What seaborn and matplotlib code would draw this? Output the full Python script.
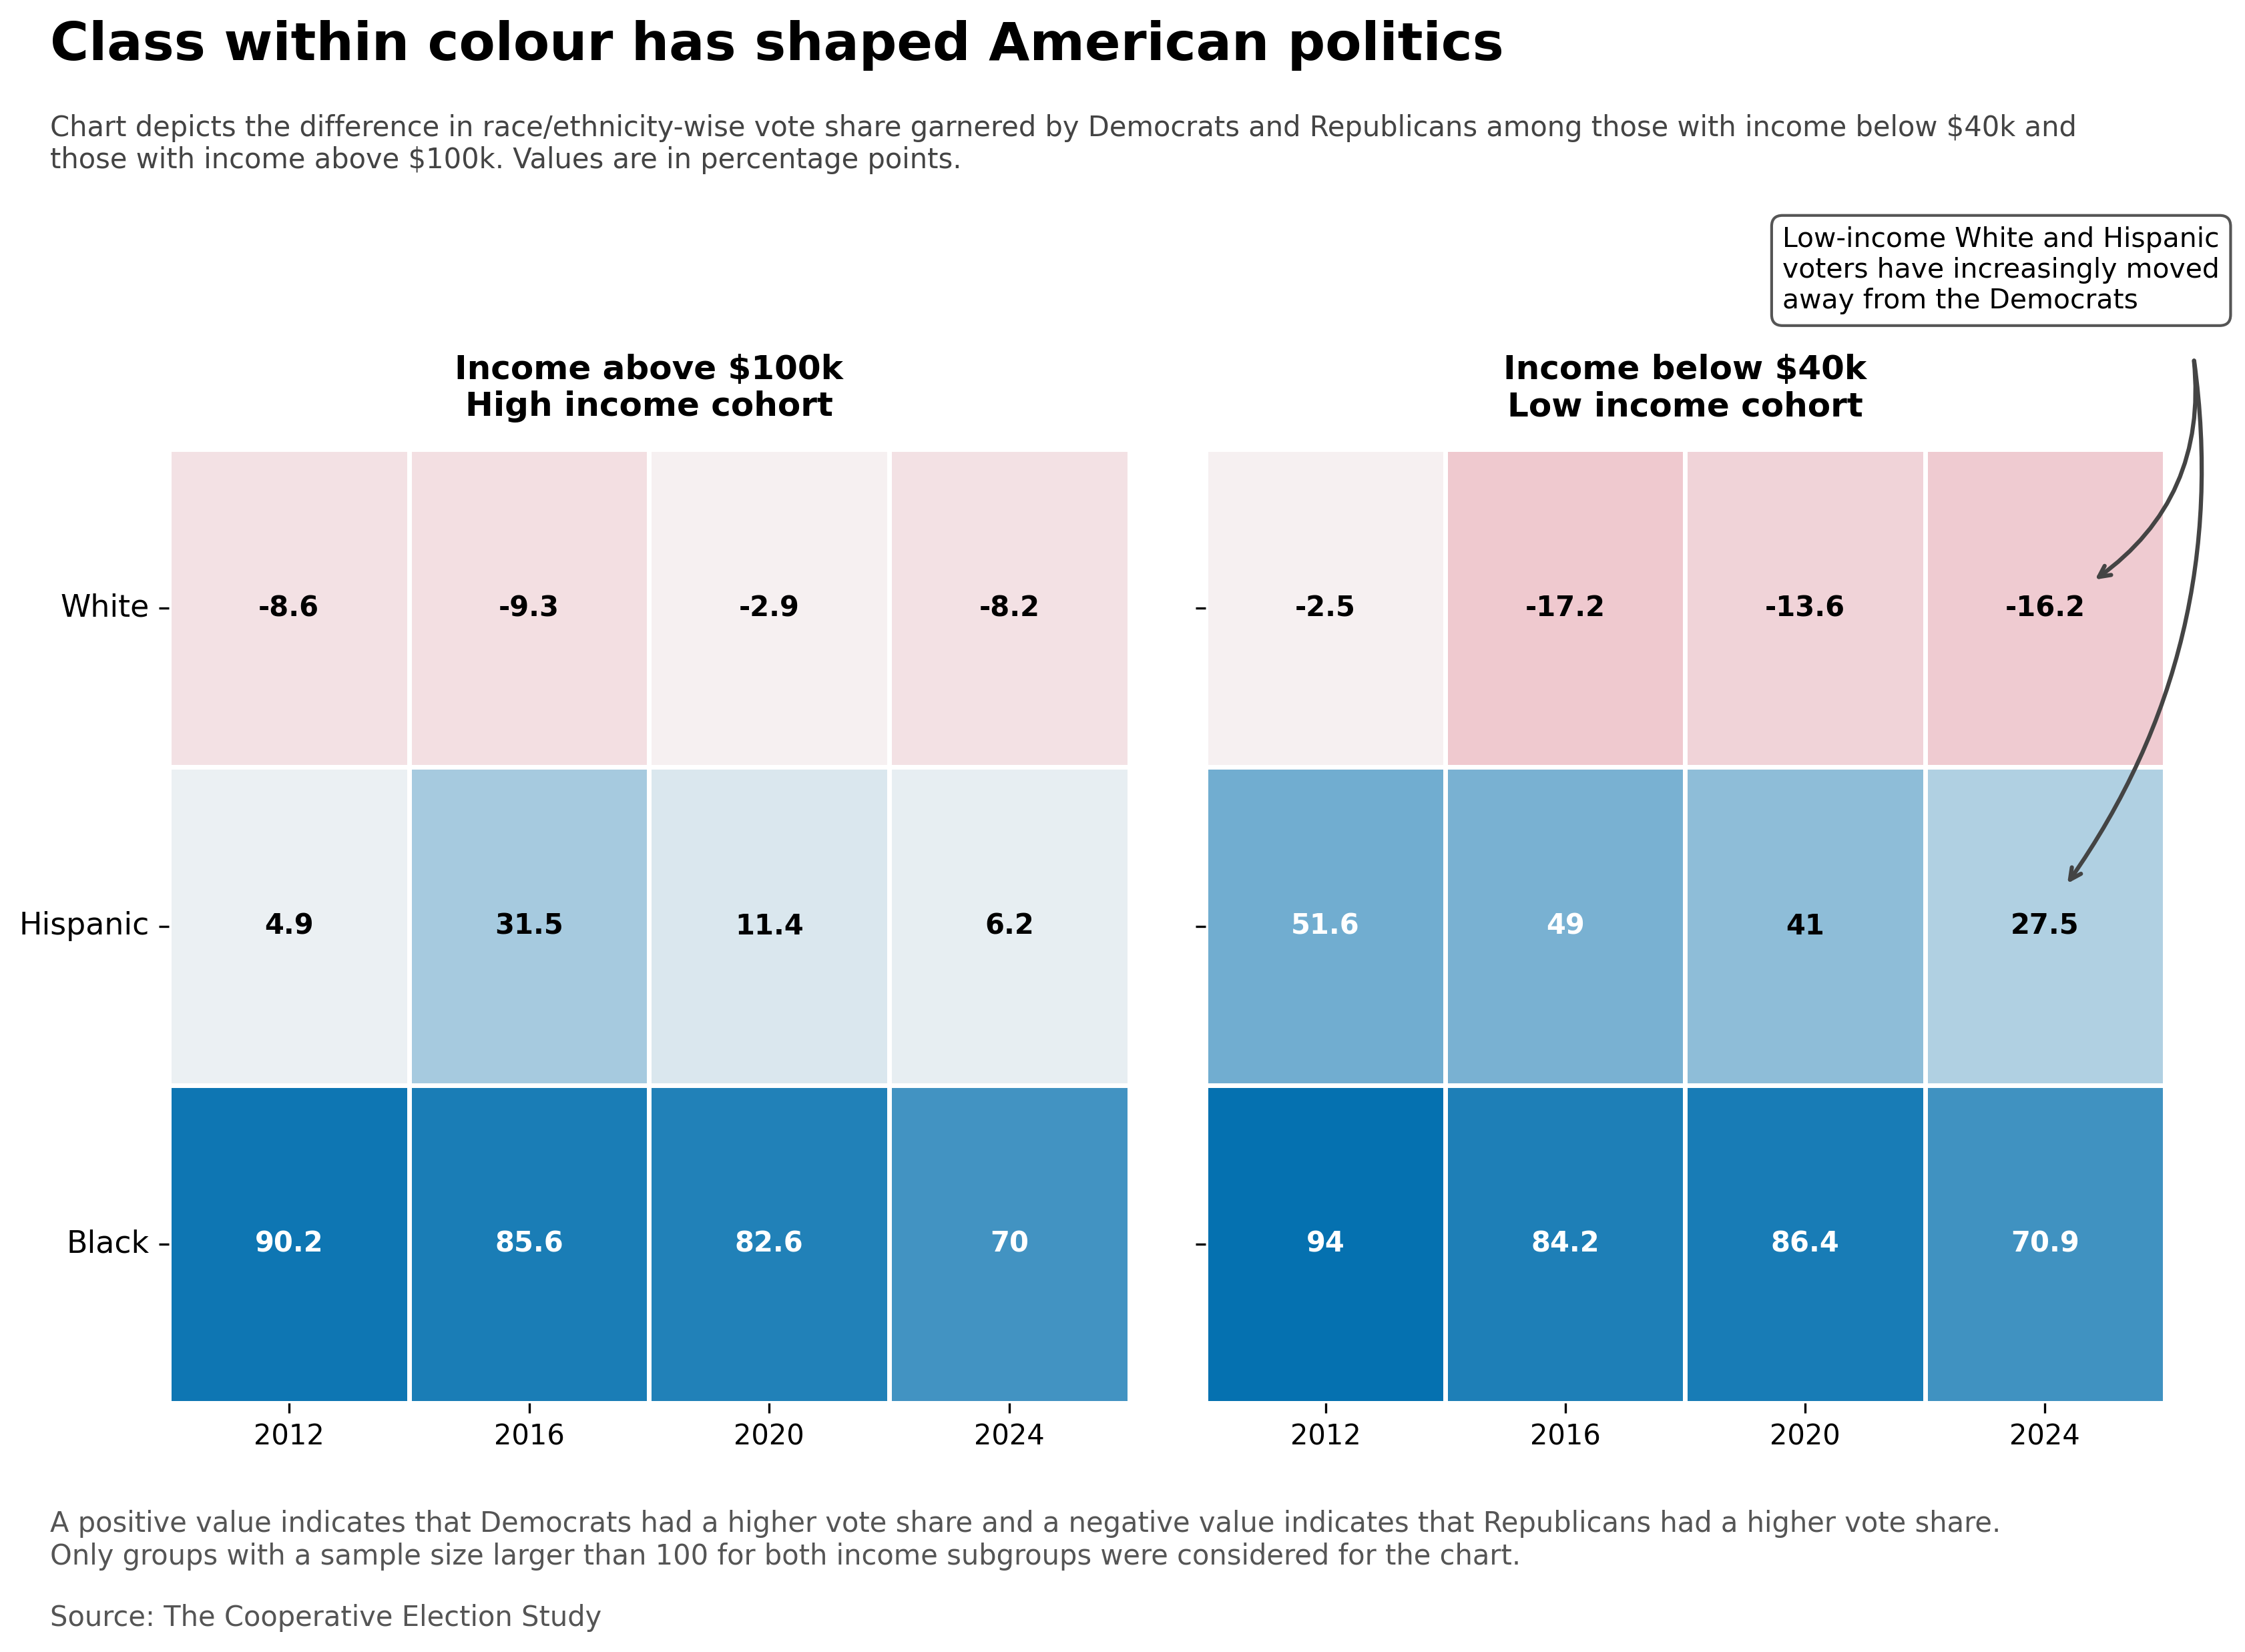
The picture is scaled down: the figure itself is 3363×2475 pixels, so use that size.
import matplotlib
matplotlib.use("Agg")
import matplotlib.pyplot as plt
import seaborn as sns
import pandas as pd
import numpy as np

# Dem minus Rep vote share (percentage points), by race and income cohort
years = [2012, 2016, 2020, 2024]
groups = ["White", "Hispanic", "Black"]

high_white = [-8.6, -9.3, -2.9, -8.2]
high_hispanic = [4.9, 31.5, 11.4, 6.2]
high_black = [90.2, 85.6, 82.6, 70]

low_white = [-2.5, -17.2, -13.6, -16.2]
low_hispanic = [51.6, 49, 41, 27.5]
low_black = [94, 84.2, 86.4, 70.9]

high = pd.DataFrame([high_white, high_hispanic, high_black], index=groups, columns=years)
low = pd.DataFrame([low_white, low_hispanic, low_black], index=groups, columns=years)

vmax = max(high.abs().max().max(), low.abs().max().max())
cmap = sns.blend_palette(["#ca0020", "#f7f7f7", "#0571b0"], as_cmap=True)

fig = plt.figure(figsize=(11.21, 8.25), dpi=300)
ax1 = fig.add_axes([0.0752, 0.1507, 0.4279, 0.5773])
ax2 = fig.add_axes([0.537, 0.1507, 0.4273, 0.5773])

for ax, df, title in [(ax1, high, "Income above \\$100k\nHigh income cohort"),
                      (ax2, low, "Income below \\$40k\nLow income cohort")]:
    sns.heatmap(df, ax=ax, cmap=cmap, center=0, vmin=-vmax, vmax=vmax,
                annot=True, fmt="g", annot_kws={"weight": "bold", "size": 10},
                linewidths=1.6, linecolor="white", cbar=False)
    # pure black labels on the light cells
    for t in ax.texts:
        if t.get_color() != "w":
            t.set_color("black")
    ax.set_title(title, fontsize=12, fontweight="bold", pad=12)
    ax.set_xlabel("")
    ax.set_ylabel("")
    ax.tick_params(axis="x", labelsize=10, rotation=0)
    ax.tick_params(axis="y", labelsize=11, rotation=0)

ax2.set_yticklabels([])

fig.text(0.0223, 0.988, "Class within colour has shaped American politics",
         fontsize=19, fontweight="bold", va="top", ha="left")
fig.text(0.0223, 0.931,
         "Chart depicts the difference in race/ethnicity-wise vote share garnered by Democrats and Republicans among those with income below \\$40k and\n"
         "those with income above \\$100k. Values are in percentage points.",
         fontsize=10, color="#444444", va="top", ha="left")

fig.text(0.794, 0.863,
         "Low-income White and Hispanic\nvoters have increasingly moved\naway from the Democrats",
         fontsize=9.8, va="top", ha="left",
         bbox=dict(boxstyle="round,pad=0.4", fc="white", ec="#555555", lw=1))

ax2.annotate("", xy=(3.69, 0.42), xycoords="data", xytext=(0.977, 0.785),
             textcoords="figure fraction",
             arrowprops=dict(arrowstyle="->", color="#444444", lw=1.5,
                             connectionstyle="arc3,rad=-0.3"))
ax2.annotate("", xy=(3.58, 1.38), xycoords="data", xytext=(0.977, 0.785),
             textcoords="figure fraction",
             arrowprops=dict(arrowstyle="->", color="#444444", lw=1.5,
                             connectionstyle="arc3,rad=-0.2"))

fig.text(0.0223, 0.086,
         "A positive value indicates that Democrats had a higher vote share and a negative value indicates that Republicans had a higher vote share.\n"
         "Only groups with a sample size larger than 100 for both income subgroups were considered for the chart.",
         fontsize=10, color="#555555", va="top", ha="left")
fig.text(0.0223, 0.029, "Source: The Cooperative Election Study",
         fontsize=10, color="#555555", va="top", ha="left")

fig.savefig("out.png", dpi=300)
